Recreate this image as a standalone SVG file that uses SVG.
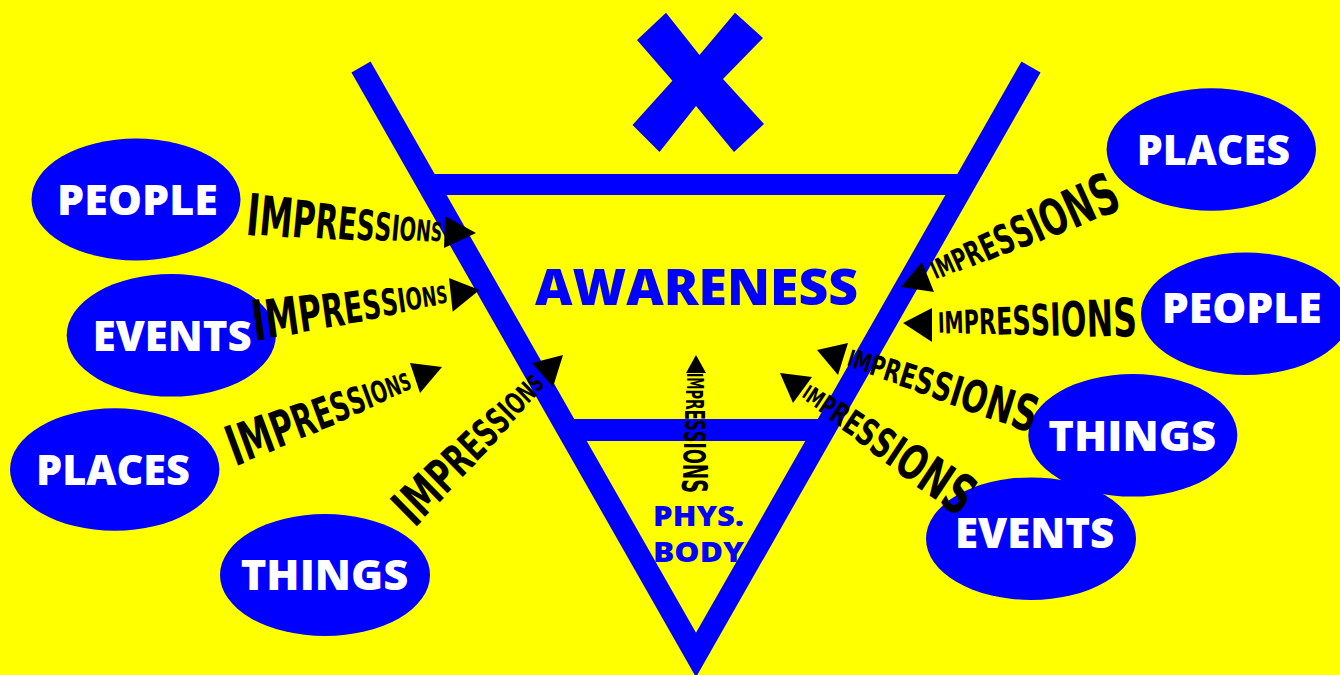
<svg xmlns="http://www.w3.org/2000/svg" width="1340" height="675" viewBox="0 0 1340 675">
<style>
.line{fill:none;stroke:#0000ff}
.node ellipse{fill:#0000ff}
.lbl{fill:#ffffff;font-family:"Open Sans","Liberation Sans",sans-serif;font-weight:800;font-size:42px}
.blt{fill:#0000ff;font-family:"Open Sans","Liberation Sans",sans-serif;font-weight:800}
.imp{fill:#000000;font-family:"Liberation Sans Narrow","DejaVu Sans Condensed","Liberation Sans",sans-serif;font-weight:bold}
.arr{fill:#000000}
</style>
<rect x="0" y="0" width="1340" height="675" fill="#ffff00"/>
<g id="funnel">
<polyline class="line" points="361,67 696,655 1031,67" stroke-width="22" stroke-linejoin="miter" stroke-miterlimit="10"/>
<line class="line" x1="428" y1="184.5" x2="964" y2="184.5" stroke-width="21"/>
<line class="line" x1="568" y1="430" x2="824" y2="430" stroke-width="22"/>
<polygon fill="#0000ff" points="666,12.7 699.5,55 735,12.7 763,38 723,79 764,124 734,152 696,106 659.5,152 632.5,125 672.4,80.7 637,40"/>
</g>
<g id="awareness"><text class="blt" x="535" y="305" font-size="50" textLength="323" lengthAdjust="spacingAndGlyphs">AWARENESS</text></g>
<g id="physbody">
<text class="blt" x="653" y="526" font-size="29" textLength="91" lengthAdjust="spacingAndGlyphs">PHYS.</text>
<text class="blt" x="653" y="561.5" font-size="29" textLength="91" lengthAdjust="spacingAndGlyphs">BODY</text>
</g>
<g id="people-left" class="node"><ellipse cx="136" cy="199.5" rx="104.5" ry="61"/><text class="lbl" x="57" y="215" textLength="161" lengthAdjust="spacingAndGlyphs">PEOPLE</text></g>
<g id="events-left" class="node"><ellipse cx="171.3" cy="335.3" rx="104.6" ry="61.3"/><text class="lbl" x="92.7" y="350.7" textLength="159" lengthAdjust="spacingAndGlyphs">EVENTS</text></g>
<g id="places-left" class="node"><ellipse cx="114.7" cy="469.5" rx="104.7" ry="61.2"/><text class="lbl" x="36" y="485" textLength="154" lengthAdjust="spacingAndGlyphs">PLACES</text></g>
<g id="things-left" class="node"><ellipse cx="325" cy="575" rx="105" ry="61"/><text class="lbl" x="240.7" y="590" textLength="167.6" lengthAdjust="spacingAndGlyphs">THINGS</text></g>
<g id="places-right" class="node"><ellipse cx="1211.3" cy="149.5" rx="104.7" ry="61.2"/><text class="lbl" x="1136.7" y="165" textLength="153.3" lengthAdjust="spacingAndGlyphs">PLACES</text></g>
<g id="people-right" class="node"><ellipse cx="1245.7" cy="313.8" rx="104.7" ry="61.2"/><text class="lbl" x="1161.7" y="322.7" textLength="160" lengthAdjust="spacingAndGlyphs">PEOPLE</text></g>
<g id="things-right" class="node"><ellipse cx="1132.8" cy="435.3" rx="104.5" ry="61.3"/><text class="lbl" x="1048.3" y="450.7" textLength="167.7" lengthAdjust="spacingAndGlyphs">THINGS</text></g>
<g id="events-right" class="node"><ellipse cx="1031" cy="538.7" rx="105" ry="61.3"/><text class="lbl" x="955" y="548.3" textLength="159.3" lengthAdjust="spacingAndGlyphs">EVENTS</text></g>
<g id="connectors">
<g transform="translate(247,214) rotate(5.3)"><text class="imp" x="0" y="0" textLength="196" lengthAdjust="spacingAndGlyphs"><tspan font-size="58" dy="20.88">I</tspan><tspan font-size="54.8" dy="-1.152">M</tspan><tspan font-size="51.6" dy="-1.152">P</tspan><tspan font-size="48.4" dy="-1.152">R</tspan><tspan font-size="45.2" dy="-1.152">E</tspan><tspan font-size="42" dy="-1.152">S</tspan><tspan font-size="38.8" dy="-1.152">S</tspan><tspan font-size="35.6" dy="-1.152">I</tspan><tspan font-size="32.4" dy="-1.152">O</tspan><tspan font-size="29.2" dy="-1.152">N</tspan><tspan font-size="26" dy="-1.152">S</tspan></text></g>
<polygon class="arr" points="445,216 476,233 444,248"/>
<g transform="translate(252,321) rotate(-7.9)"><text class="imp" x="0" y="0" textLength="197" lengthAdjust="spacingAndGlyphs"><tspan font-size="56" dy="20.16">I</tspan><tspan font-size="52.8" dy="-1.152">M</tspan><tspan font-size="49.6" dy="-1.152">P</tspan><tspan font-size="46.4" dy="-1.152">R</tspan><tspan font-size="43.2" dy="-1.152">E</tspan><tspan font-size="40" dy="-1.152">S</tspan><tspan font-size="36.8" dy="-1.152">S</tspan><tspan font-size="33.6" dy="-1.152">I</tspan><tspan font-size="30.4" dy="-1.152">O</tspan><tspan font-size="27.2" dy="-1.152">N</tspan><tspan font-size="24" dy="-1.152">S</tspan></text></g>
<polygon class="arr" points="449,278 479.5,290 452.7,311.7"/>
<g transform="translate(228,447.5) rotate(-20.3)"><text class="imp" x="0" y="0" textLength="194" lengthAdjust="spacingAndGlyphs"><tspan font-size="56" dy="20.16">I</tspan><tspan font-size="52.8" dy="-1.152">M</tspan><tspan font-size="49.6" dy="-1.152">P</tspan><tspan font-size="46.4" dy="-1.152">R</tspan><tspan font-size="43.2" dy="-1.152">E</tspan><tspan font-size="40" dy="-1.152">S</tspan><tspan font-size="36.8" dy="-1.152">S</tspan><tspan font-size="33.6" dy="-1.152">I</tspan><tspan font-size="30.4" dy="-1.152">O</tspan><tspan font-size="27.2" dy="-1.152">N</tspan><tspan font-size="24" dy="-1.152">S</tspan></text></g>
<polygon class="arr" points="410,363 442,367 420,393"/>
<g transform="translate(401,515) rotate(-44.5)"><text class="imp" x="0" y="0" textLength="194" lengthAdjust="spacingAndGlyphs"><tspan font-size="53" dy="19.08">I</tspan><tspan font-size="50.1" dy="-1.044">M</tspan><tspan font-size="47.2" dy="-1.044">P</tspan><tspan font-size="44.3" dy="-1.044">R</tspan><tspan font-size="41.4" dy="-1.044">E</tspan><tspan font-size="38.5" dy="-1.044">S</tspan><tspan font-size="35.6" dy="-1.044">S</tspan><tspan font-size="32.7" dy="-1.044">I</tspan><tspan font-size="29.8" dy="-1.044">O</tspan><tspan font-size="26.9" dy="-1.044">N</tspan><tspan font-size="24" dy="-1.044">S</tspan></text></g>
<polygon class="arr" points="532,363 563,355 553,387"/>
<g transform="translate(932,271.4) rotate(-24.2)"><text class="imp" x="0" y="0" textLength="201" lengthAdjust="spacingAndGlyphs"><tspan font-size="24" dy="8.64">I</tspan><tspan font-size="27.3" dy="1.188">M</tspan><tspan font-size="30.6" dy="1.188">P</tspan><tspan font-size="33.9" dy="1.188">R</tspan><tspan font-size="37.2" dy="1.188">E</tspan><tspan font-size="40.5" dy="1.188">S</tspan><tspan font-size="43.8" dy="1.188">S</tspan><tspan font-size="47.1" dy="1.188">I</tspan><tspan font-size="50.4" dy="1.188">O</tspan><tspan font-size="53.7" dy="1.188">N</tspan><tspan font-size="57" dy="1.188">S</tspan></text></g>
<polygon class="arr" points="901,287 922,262 934,292"/>
<g transform="translate(938,322.6) rotate(-1.6)"><text class="imp" x="0" y="0" textLength="199" lengthAdjust="spacingAndGlyphs"><tspan font-size="28" dy="10.08">I</tspan><tspan font-size="30.5" dy="0.9">M</tspan><tspan font-size="33" dy="0.9">P</tspan><tspan font-size="35.5" dy="0.9">R</tspan><tspan font-size="38" dy="0.9">E</tspan><tspan font-size="40.5" dy="0.9">S</tspan><tspan font-size="43" dy="0.9">S</tspan><tspan font-size="45.5" dy="0.9">I</tspan><tspan font-size="48" dy="0.9">O</tspan><tspan font-size="50.5" dy="0.9">N</tspan><tspan font-size="53" dy="0.9">S</tspan></text></g>
<polygon class="arr" points="903,323 932,308 932,342"/>
<g transform="translate(848.5,357) rotate(17.3)"><text class="imp" x="0" y="0" textLength="198" lengthAdjust="spacingAndGlyphs"><tspan font-size="23" dy="8.28">I</tspan><tspan font-size="25.7" dy="0.972">M</tspan><tspan font-size="28.4" dy="0.972">P</tspan><tspan font-size="31.1" dy="0.972">R</tspan><tspan font-size="33.8" dy="0.972">E</tspan><tspan font-size="36.5" dy="0.972">S</tspan><tspan font-size="39.2" dy="0.972">S</tspan><tspan font-size="41.9" dy="0.972">I</tspan><tspan font-size="44.6" dy="0.972">O</tspan><tspan font-size="47.3" dy="0.972">N</tspan><tspan font-size="50" dy="0.972">S</tspan></text></g>
<polygon class="arr" points="817,350 848,343 838,375"/>
<g transform="translate(805,390.3) rotate(33.7)"><text class="imp" x="0" y="0" textLength="199.5" lengthAdjust="spacingAndGlyphs"><tspan font-size="20" dy="7.2">I</tspan><tspan font-size="23.5" dy="1.26">M</tspan><tspan font-size="27" dy="1.26">P</tspan><tspan font-size="30.5" dy="1.26">R</tspan><tspan font-size="34" dy="1.26">E</tspan><tspan font-size="37.5" dy="1.26">S</tspan><tspan font-size="41" dy="1.26">S</tspan><tspan font-size="44.5" dy="1.26">I</tspan><tspan font-size="48" dy="1.26">O</tspan><tspan font-size="51.5" dy="1.26">N</tspan><tspan font-size="55" dy="1.26">S</tspan></text></g>
<polygon class="arr" points="780,373 812,377 793,403"/>
<g transform="translate(695,373) rotate(90)"><text class="imp" x="0" y="0" textLength="120" lengthAdjust="spacingAndGlyphs"><tspan font-size="21" dy="7.56">I</tspan><tspan font-size="22.4" dy="0.504">M</tspan><tspan font-size="23.8" dy="0.504">P</tspan><tspan font-size="25.2" dy="0.504">R</tspan><tspan font-size="26.6" dy="0.504">E</tspan><tspan font-size="28" dy="0.504">S</tspan><tspan font-size="29.4" dy="0.504">S</tspan><tspan font-size="30.8" dy="0.504">I</tspan><tspan font-size="32.2" dy="0.504">O</tspan><tspan font-size="33.6" dy="0.504">N</tspan><tspan font-size="35" dy="0.504">S</tspan></text></g>
<polygon class="arr" points="686,373 696,355 706,373"/>
</g>
</svg>
